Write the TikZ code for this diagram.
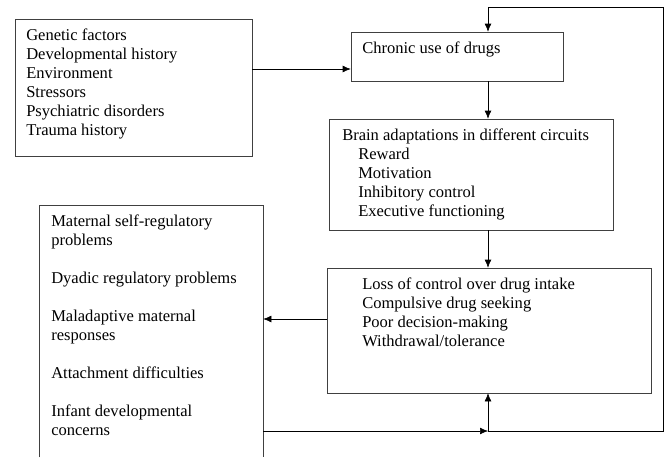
\documentclass[tikz,border=0pt]{standalone}
\usepackage{fontspec}
\setmainfont{Liberation Serif}
\usetikzlibrary{arrows.meta,fit}

\begin{document}
\begin{tikzpicture}[%%
  x=0.75pt,y=-0.75pt,%%
  arrowStyle/.style={-{Latex[length=6pt,width=5pt]},thin,black},%%
  lineStyle/.style={-,thin,black},%%
  boxStyle/.style={draw=black!75,thin,inner sep=0pt},%%
  labelStyle/.style={anchor=north west,inner sep=0pt,align=left,%%
    font=\fontsize{12.4}{14.25}\selectfont}%%
]
%%
\useasboundingbox (0,0) rectangle (666,457);
%%
%% Corners of the boxes.
\coordinate (factorsNW) at (15,19);
\coordinate (factorsSE) at (252,156);
\coordinate (chronicNW) at (351,32);
\coordinate (chronicSE) at (563,81);
\coordinate (brainNW) at (329,119);
\coordinate (brainSE) at (613,230);
\coordinate (lossNW) at (327,268);
\coordinate (lossSE) at (651,393);
\coordinate (effectsNW) at (40,206);
\coordinate (effectsSE) at (263,457);
%%
%% Points the connectors run through.
\coordinate (spine) at (488,0);
\coordinate (factorsOut) at (252,69);
\coordinate (lossOut) at (327,319);
\coordinate (loopBR) at (663,431);
\coordinate (loopTR) at (663,7);
%%
%% The boxes.
\node[boxStyle,fit=(factorsNW)(factorsSE)] (factors) {};
\node[boxStyle,fit=(chronicNW)(chronicSE)] (chronic) {};
\node[boxStyle,fit=(brainNW)(brainSE)] (brain) {};
\node[boxStyle,fit=(lossNW)(lossSE)] (loss) {};
\node[inner sep=0pt,fit=(effectsNW)(effectsSE)] (effects) {};
%% The left box runs off the bottom of the page.
\draw[draw=black!75,thin] (effects.south west) -- (effects.north west)
  -- (effects.north east) -- (effects.south east);
%%
%% The texts.
\node[labelStyle] (factorsText) at (26,26.7) {\strut Genetic factors\\
  Developmental history\\ Environment\\ Stressors\\
  Psychiatric disorders\\ Trauma history};
\node[labelStyle] (chronicText) at (362,40) {\strut Chronic use of drugs};
\node[labelStyle] (brainText) at (342,126.7) {\strut Brain adaptations in different circuits\\
  \hspace*{12pt}Reward\\ \hspace*{12pt}Motivation\\
  \hspace*{12pt}Inhibitory control\\ \hspace*{12pt}Executive functioning};
\node[labelStyle] (lossText) at (362,276) {\strut Loss of control over drug intake\\
  Compulsive drug seeking\\ Poor decision-making\\ Withdrawal/tolerance};
\node[labelStyle] (effectsText) at (51,213.4) {\strut Maternal self-regulatory\\ problems\\[14.25pt]
  Dyadic regulatory problems\\[14.25pt]
  Maladaptive maternal\\ responses\\[14.25pt]
  Attachment difficulties\\[14.25pt]
  Infant developmental\\ concerns};
%%
%% The connectors.
\draw[arrowStyle] (factorsOut) -- (factorsOut -| chronic.west);
\draw[arrowStyle] (chronic.south -| spine) -- (brain.north -| spine);
\draw[arrowStyle] (brain.south -| spine) -- (loss.north -| spine);
\draw[arrowStyle] (lossOut) -- (lossOut -| effects.east);
%% Feedback loop.
\draw[arrowStyle] (effects.east |- loopBR) -- (spine |- loopBR);
\draw[arrowStyle] (spine |- loopBR) -- (loss.south -| spine);
\draw[arrowStyle] (spine |- loopBR) -- (loopBR) -- (loopTR)
  -- (loopTR -| spine) -- (chronic.north -| spine);
\end{tikzpicture}
\end{document}
